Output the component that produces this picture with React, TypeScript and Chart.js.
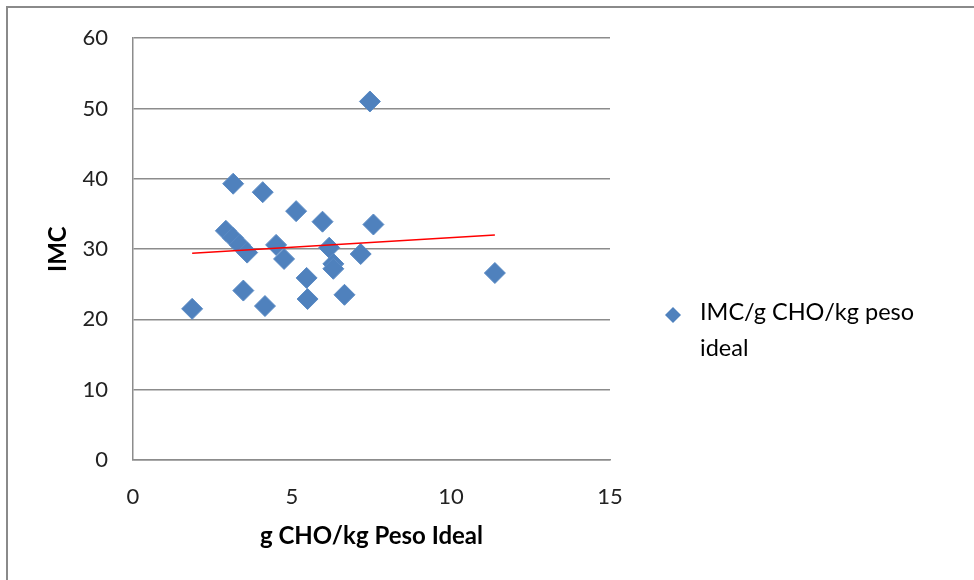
import React, { useEffect, useRef } from "react";
import { Chart, registerables } from "chart.js";

Chart.register(...registerables);

const xValues = [7.45, 3.15, 4.08, 5.13, 5.96, 7.56, 2.92, 3.14, 3.36, 3.59, 4.5, 4.75, 6.17, 6.3, 6.3, 7.16, 3.47, 5.46, 5.49, 4.15, 6.65, 1.86, 11.38];
const yValues = [51.0, 39.3, 38.1, 35.4, 33.9, 33.5, 32.6, 31.6, 30.6, 29.5, 30.6, 28.6, 30.2, 27.9, 27.2, 29.3, 24.1, 25.9, 22.9, 21.9, 23.5, 21.5, 26.6];
const trendX = [1.86, 11.38];
const trendY = [29.4, 32.0];
const seriesLabel = ["IMC/g CHO/kg peso", "ideal"];
const xTitle = "g CHO/kg Peso Ideal";
const yTitle = "IMC";

const FONT = "Lato, 'Open Sans', sans-serif";
const BLUE = "#4F81BD";
const GRID = "#8c8c8c";

const legendPlugin = {
  id: "customLegend",
  afterDraw(chart: any) {
    const ctx = chart.ctx;
    ctx.save();
    const mx = 673;
    const my = 315;
    const r = 8;
    ctx.fillStyle = BLUE;
    ctx.beginPath();
    ctx.moveTo(mx - r, my);
    ctx.lineTo(mx, my - r);
    ctx.lineTo(mx + r, my);
    ctx.lineTo(mx, my + r);
    ctx.closePath();
    ctx.fill();
    ctx.fillStyle = "#000";
    ctx.font = `23.5px ${FONT}`;
    ctx.textBaseline = "middle";
    ctx.textAlign = "left";
    seriesLabel.forEach((t, i) => ctx.fillText(t, 700, 312 + i * 36));
    ctx.restore();
  },
};

export default function App() {
  const ref = useRef<HTMLCanvasElement>(null);
  useEffect(() => {
    const canvas = ref.current!;
    const chart = new Chart(canvas, {
      type: "scatter",
      data: {
        datasets: [
          {
            label: seriesLabel.join(" "),
            data: xValues.map((x, i) => ({ x, y: yValues[i] })),
            pointStyle: "rectRot",
            pointRadius: 10.5,
            backgroundColor: BLUE,
            borderColor: "#5a8ac4",
            borderWidth: 1,
            order: 2,
          },
          {
            type: "line",
            label: "trend",
            data: trendX.map((x, i) => ({ x, y: trendY[i] })),
            borderColor: "#FF0000",
            borderWidth: 1.5,
            pointRadius: 0,
            showLine: true,
            fill: false,
            order: 1,
          } as any,
        ],
      },
      options: {
        responsive: false,
        animation: false,
        layout: { padding: { left: 0, right: 364, top: 37, bottom: 0 } },
        plugins: { legend: { display: false }, tooltip: { enabled: false } },
        scales: {
          x: {
            type: "linear",
            min: 0,
            max: 15,
            ticks: { stepSize: 5, padding: 24, color: "#222", font: { family: FONT, size: 22 } },
            grid: { display: false, drawTicks: false },
            border: { display: true, color: GRID, width: 1.5 },
            title: {
              display: true,
              text: xTitle,
              color: "#000",
              font: { family: FONT, size: 24, weight: "bold" },
              padding: { top: 0, bottom: 29 },
            },
            afterFit(scale: any) {
              scale.height = 120;
            },
          },
          y: {
            min: 0,
            max: 60,
            ticks: { stepSize: 10, padding: 25, color: "#222", font: { family: FONT, size: 22 } },
            grid: { color: GRID, lineWidth: 1.5, drawTicks: false },
            border: { display: true, color: GRID, width: 1.5 },
            title: {
              display: true,
              text: yTitle,
              color: "#000",
              font: { family: FONT, size: 24, weight: "bold" },
              padding: { top: 44, bottom: 0 },
            },
            afterFit(scale: any) {
              scale.width = 133;
            },
          },
        },
      },
      plugins: [legendPlugin],
    });
    return () => chart.destroy();
  }, []);

  return (
    <div style={{ position: "fixed", left: 0, top: 0, width: 974, height: 580, background: "#fff" }}>
      <div
        style={{
          position: "absolute",
          left: 6,
          top: 6,
          right: 0,
          bottom: 0,
          borderLeft: "2px solid #8a8a8a",
          borderTop: "2px solid #8a8a8a",
        }}
      />
      <canvas ref={ref} width={974} height={580} style={{ position: "absolute", left: 0, top: 0 }} />
    </div>
  );
}
